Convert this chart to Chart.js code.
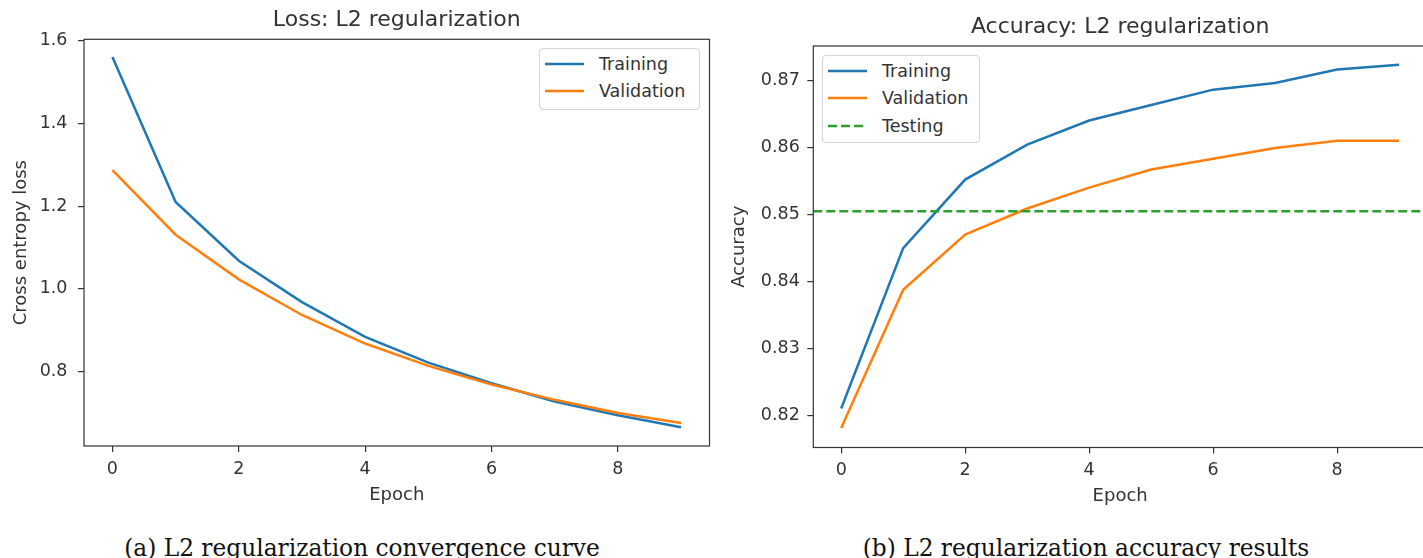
<!DOCTYPE html>
<html>
<head>
<meta charset="utf-8">
<script src="https://cdn.jsdelivr.net/npm/chart.js@4.4.1/dist/chart.umd.min.js"></script>
<style>
  html, body { margin: 0; padding: 0; width: 1423px; height: 558px; overflow: hidden; background: #fff; }
  body { position: relative; font-family: "DejaVu Sans", sans-serif; }
  canvas { position: absolute; top: 0; }
  #lossChart { left: 0; }
  #accChart { left: 720px; }
  .legend { position: absolute; background: #fff; border: 1px solid #d4d4d4; border-radius: 4px; box-sizing: border-box; }
  .legend .row { position: absolute; left: 0; width: 100%; height: 20px; }
  .legend svg { position: absolute; left: 5px; top: 7px; }
  .legend span { position: absolute; left: 59px; top: 0; line-height: 20px; font-size: 17.5px; color: #333; white-space: nowrap; }
  .caption { position: absolute; top: 536px; font-family: "DejaVu Serif", serif; font-size: 23.3px; line-height: 23px; color: #111; white-space: nowrap; transform: translateX(-50%); }
</style>
</head>
<body>
<canvas id="lossChart" width="720" height="520"></canvas>
<canvas id="accChart" width="720" height="520"></canvas>
<div id="lossLegend" class="legend" style="left:539px;top:48px;width:161px;height:62px"></div>
<div id="accLegend" class="legend" style="left:822px;top:55px;width:158px;height:88px"></div>
<div class="caption" style="left:362px">(a) L2 regularization convergence curve</div>
<div class="caption" style="left:1086px">(b) L2 regularization accuracy results</div>
<script>
const epochs = [0, 1, 2, 3, 4, 5, 6, 7, 8, 9];
const epochTicks = [0, 2, 4, 6, 8];

// loss panel
const lossTraining = [1.560, 1.210, 1.068, 0.968, 0.884, 0.822, 0.772, 0.728, 0.695, 0.666];
const lossValidation = [1.287, 1.131, 1.023, 0.937, 0.868, 0.814, 0.769, 0.732, 0.700, 0.676];
const lossTicks = [0.8, 1.0, 1.2, 1.4, 1.6];

// accuracy panel
const accTraining = [0.8211, 0.8450, 0.8552, 0.8604, 0.8640, 0.8663, 0.8686, 0.8696, 0.8716, 0.8723];
const accValidation = [0.8182, 0.8388, 0.8470, 0.8509, 0.8540, 0.8567, 0.8583, 0.8599, 0.8610, 0.8610];
const accTesting = 0.8505;
const accTicks = [0.82, 0.83, 0.84, 0.85, 0.86, 0.87];

// axis limits (matplotlib style 5% margins)
const xRange = [-0.45, 9.45];
const lossRange = [0.6205, 1.603];
const accRange = [0.8153, 0.8751];

const blue = '#1f77b4', orange = '#ff7f0e', green = '#2ca02c';
const ink = '#333';

Chart.defaults.font.family = '"DejaVu Sans", sans-serif';
Chart.defaults.color = ink;

function points(ys) {
  return epochs.map((x, i) => ({ x: x, y: ys[i] }));
}

// box around the plot, like matplotlib spines
const frame = {
  id: 'frame',
  afterDatasetsDraw(chart) {
    const { ctx, chartArea: a } = chart;
    ctx.save();
    ctx.strokeStyle = ink;
    ctx.lineWidth = 1.2;
    ctx.strokeRect(a.left, a.top, a.right - a.left, a.bottom - a.top);
    ctx.restore();
  }
};

function makeChart(id, datasets, title, yTitle, yRange, yTicks, digits, g) {
  const tickGrid = { drawOnChartArea: false, drawTicks: true, tickLength: 6, color: ink, lineWidth: 1.2 };
  return new Chart(document.getElementById(id), {
    type: 'line',
    data: { datasets: datasets },
    options: {
      responsive: false,
      animation: false,
      devicePixelRatio: 1,
      layout: { padding: { left: 0, right: g.padRight, top: 0, bottom: 0 } },
      elements: { point: { radius: 0 }, line: { tension: 0 } },
      plugins: {
        legend: { display: false },
        tooltip: { enabled: false },
        title: {
          display: true, text: title, fullSize: false, color: ink,
          font: { size: 22, weight: 'normal' },
          padding: { top: g.titleTop, bottom: g.titleBottom }
        }
      },
      scales: {
        x: {
          type: 'linear', min: xRange[0], max: xRange[1],
          afterBuildTicks: s => { s.ticks = epochTicks.map(v => ({ value: v })); },
          afterFit: s => { s.height = g.axisH; },
          ticks: { font: { size: 17.5 }, padding: g.xTickPad, maxRotation: 0, autoSkip: false, callback: v => String(v) },
          grid: tickGrid,
          border: { display: false },
          title: { display: true, text: 'Epoch', font: { size: 18 }, padding: { top: 0, bottom: g.xTitleBottom } }
        },
        y: {
          min: yRange[0], max: yRange[1],
          afterBuildTicks: s => { s.ticks = yTicks.map(v => ({ value: v })); },
          afterFit: s => { s.width = g.axisW; },
          ticks: { font: { size: 17.5 }, padding: g.yTickPad, autoSkip: false, callback: v => Number(v).toFixed(digits) },
          grid: tickGrid,
          border: { display: false },
          title: { display: true, text: yTitle, font: { size: 18 }, padding: { top: g.yTitlePad, bottom: 0 } }
        }
      }
    },
    plugins: [frame]
  });
}

function buildLegend(elId, chart, first, pitch) {
  const el = document.getElementById(elId);
  chart.data.datasets.forEach((ds, i) => {
    const row = document.createElement('div');
    row.className = 'row';
    row.style.top = (first + i * pitch - 10) + 'px';
    const dash = ds.borderDash && ds.borderDash.length ? ds.borderDash.join(',') : 'none';
    row.innerHTML = '<svg width="39" height="6"><line x1="0" y1="3" x2="39" y2="3" stroke="' + ds.borderColor +
      '" stroke-width="2.5" stroke-dasharray="' + dash + '"/></svg><span>' + ds.label + '</span>';
    el.appendChild(row);
  });
}

const lossChart = makeChart('lossChart', [
  { label: 'Training', data: points(lossTraining), borderColor: blue, borderWidth: 2.5, order: 3 },
  { label: 'Validation', data: points(lossValidation), borderColor: orange, borderWidth: 2.5, order: 2 }
], 'Loss: L2 regularization', 'Cross entropy loss', lossRange, lossTicks, 1,
  { axisW: 84, padRight: 10.5, axisH: 74, xTickPad: 7, yTickPad: 10.5, yTitlePad: 10.5, xTitleBottom: 13.5, titleTop: 7.5, titleBottom: 5.4 });

const accChart = makeChart('accChart', [
  { label: 'Training', data: points(accTraining), borderColor: blue, borderWidth: 2.5, order: 3 },
  { label: 'Validation', data: points(accValidation), borderColor: orange, borderWidth: 2.5, order: 2 },
  { label: 'Testing', data: [{ x: xRange[0], y: accTesting }, { x: xRange[1], y: accTesting }], borderColor: green, borderWidth: 2.5, borderDash: [9, 4], order: 1 }
], 'Accuracy: L2 regularization', 'Accuracy', accRange, accTicks, 2,
  { axisW: 93.3, padRight: 13, axisH: 72.5, xTickPad: 6, yTickPad: 7.5, yTitlePad: 8.5, xTitleBottom: 13, titleTop: 13.8, titleBottom: 5.8 });

buildLegend('lossLegend', lossChart, 14.5, 27.8);
buildLegend('accLegend', accChart, 14.5, 27.8);
</script>
</body>
</html>
